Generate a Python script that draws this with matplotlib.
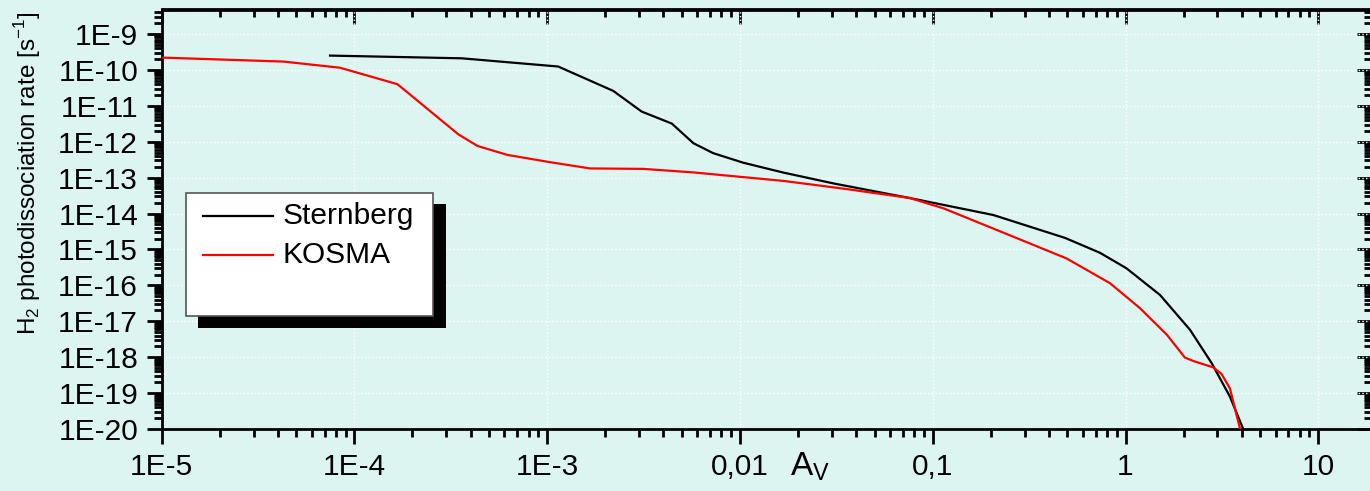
import numpy as np
import matplotlib.pyplot as plt
from matplotlib.patches import Rectangle
from matplotlib.lines import Line2D
from matplotlib.ticker import FixedLocator, FixedFormatter, LogLocator, NullFormatter

plt.rcParams['font.family'] = ['Liberation Sans', 'DejaVu Sans']
plt.rcParams['mathtext.fontset'] = 'custom'
plt.rcParams['mathtext.rm'] = 'Liberation Sans'

# data
sternberg_av = [7.47e-5, 3.6e-4, 1.14e-3, 2.2e-3, 3.09e-3, 4.43e-3, 5.73e-3, 7.26e-3,
                0.0104, 0.0168, 0.0305, 0.076, 0.206, 0.485, 0.736, 1.01, 1.51,
                2.16, 2.8, 3.48, 4.08]
sternberg_rate = [2.5e-10, 2.1e-10, 1.24e-10, 2.6e-11, 6.9e-12, 3.2e-12, 9.1e-13, 4.8e-13,
                  2.6e-13, 1.38e-13, 6.9e-14, 2.7e-14, 9.1e-15, 2.1e-15, 8.1e-16, 3.0e-16,
                  5.4e-17, 5.8e-18, 6.8e-19, 8e-20, 1e-20]

kosma_av = [1e-5, 4.3e-5, 8.4e-5, 1.67e-4, 3.46e-4, 4.35e-4, 6.2e-4, 1.03e-3, 1.67e-3,
            3.15e-3, 5.7e-3, 0.0168, 0.0357, 0.076, 0.1135, 0.25, 0.495, 0.83, 1.19,
            1.64, 2.03, 2.25, 2.85, 3.15, 3.48, 3.93]
kosma_rate = [2.2e-10, 1.7e-10, 1.15e-10, 4.0e-11, 1.6e-12, 7.6e-13, 4.3e-13, 2.7e-13, 1.8e-13,
              1.75e-13, 1.4e-13, 8.1e-14, 4.8e-14, 2.7e-14, 1.4e-14, 2.5e-15, 5.6e-16, 1.15e-16,
              2.3e-17, 4.2e-18, 9.8e-19, 7.8e-19, 5.2e-19, 3.4e-19, 1.35e-19, 1e-20]

x_ticks = [1e-5, 1e-4, 1e-3, 1e-2, 1e-1, 1, 10]
x_ticklabels = ['1E-5', '1E-4', '1E-3', '0,01', '0,1', '1', '10']
y_ticks = [10.0 ** e for e in range(-20, -8)]
y_ticklabels = ['1E%d' % e for e in range(-20, -8)]

bg = '#ddf5f1'

fig = plt.figure(figsize=(13.7, 4.91), dpi=100, facecolor=bg)
W, H = 1370.0, 491.0
ax = fig.add_axes([161.7 / W, 62 / H, (1372 - 161.7) / W, (429 - 9.5) / H])
ax.set_facecolor(bg)

ax.plot(sternberg_av, sternberg_rate, color='black', lw=1.6, zorder=3)
ax.plot(kosma_av, kosma_rate, color='red', lw=1.6, zorder=3)

ax.set_xscale('log')
ax.set_yscale('log')
ax.set_xlim(1e-5, 19)
ax.set_ylim(1e-20, 4.8e-9)

ax.xaxis.set_major_locator(FixedLocator(x_ticks))
ax.xaxis.set_major_formatter(FixedFormatter(x_ticklabels))
ax.yaxis.set_major_locator(FixedLocator(y_ticks))
ax.yaxis.set_major_formatter(FixedFormatter(y_ticklabels))
ax.xaxis.set_minor_locator(LogLocator(base=10, subs=np.arange(2, 10), numticks=100))
ax.yaxis.set_minor_locator(LogLocator(base=10, subs=np.arange(2, 10), numticks=100))
ax.xaxis.set_minor_formatter(NullFormatter())
ax.yaxis.set_minor_formatter(NullFormatter())

ax.tick_params(which='major', direction='out', length=11, width=2, labelsize=21.5, pad=6)
ax.tick_params(which='minor', direction='out', length=6, width=2)
for s in ax.spines.values():
    s.set_linewidth(2)

ax.grid(True, which='major', color='white', ls=':', lw=1, zorder=0)
ax.set_axisbelow(True)

# top and right ticks point inward
top = ax.secondary_xaxis('top')
right = ax.secondary_yaxis('right')
for sec, axis, ticks in [(top, top.xaxis, x_ticks), (right, right.yaxis, y_ticks)]:
    sec.tick_params(which='major', direction='in', length=11, width=2, labelsize=0)
    sec.tick_params(which='minor', direction='in', length=6, width=2)
    axis.set_major_locator(FixedLocator(ticks))
    axis.set_minor_locator(LogLocator(base=10, subs=np.arange(2, 10), numticks=100))
    axis.set_major_formatter(NullFormatter())
    axis.set_minor_formatter(NullFormatter())
    for s in sec.spines.values():
        s.set_linewidth(2)

ax.set_xlabel(r'A$_\mathregular{V}$', fontsize=24)
ax.xaxis.set_label_coords(0.536, -0.05)
ax.set_ylabel(r'H$_\mathregular{2}$ photodissociation rate [s$^\mathregular{-1}$]', fontsize=17.5)
ax.yaxis.set_label_coords(-0.098, 0.61)

# legend box with hard shadow, drawn by hand
ax.add_patch(Rectangle((0.0300, 0.2408), 0.2045, 0.2956, transform=ax.transAxes,
                       facecolor='black', edgecolor='none', zorder=5))
ax.add_patch(Rectangle((0.0201, 0.2701), 0.2042, 0.2932, transform=ax.transAxes,
                       facecolor='white', edgecolor='#555555', lw=1.2, zorder=6))
for yy, c, lab in [(0.5077, 'black', 'Sternberg'), (0.4155, 'red', 'KOSMA')]:
    ax.add_line(Line2D([0.0342, 0.0921], [yy, yy], transform=ax.transAxes,
                       color=c, lw=1.6, zorder=7))
    ax.text(0.0996, yy, lab, transform=ax.transAxes, fontsize=21.5,
            va='center', ha='left', zorder=7)

fig.savefig('out.png', dpi=100, facecolor=bg)
